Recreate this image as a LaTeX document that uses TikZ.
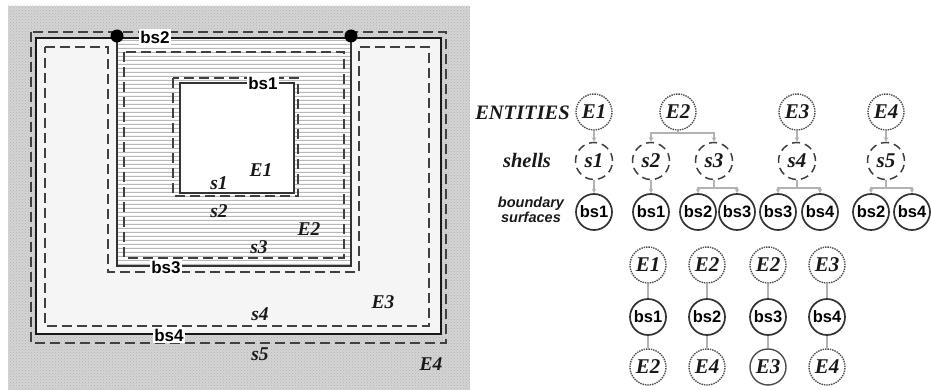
\documentclass[tikz,border=0pt]{standalone}
\usepackage{fontspec}
\setmainfont{Liberation Serif}
\setsansfont{Liberation Sans}
\usetikzlibrary{patterns,arrows.meta}

% thin horizontal hatching with a 4pt period
\pgfdeclarepatternformonly{hlinesfour}{\pgfpoint{0pt}{0pt}}{\pgfpoint{200pt}{4pt}}{\pgfpoint{200pt}{4pt}}{%
  \pgfsetlinewidth{1.2pt}%
  \pgfpathmoveto{\pgfpoint{-1pt}{2pt}}\pgfpathlineto{\pgfpoint{201pt}{2pt}}\pgfusepath{stroke}}

\tikzset{
  solidline/.style={draw=black!90, line width=2.6pt},
  innerline/.style={draw=black!80, line width=2.1pt},
  shellline/.style={draw=black!75, line width=1.9pt, dash pattern=on 10pt off 5pt},
  bslabel/.style={fill=white, inner sep=1.5pt, font=\sffamily\bfseries\fontsize{17}{17}\selectfont},
  reglabel/.style={inner sep=0pt, font=\bfseries\itshape\fontsize{19.5}{19.5}\selectfont, text=black!90},
  ent/.style={circle, draw=black!70, densely dotted, line width=1.4pt, minimum size=36pt, inner sep=0pt,
    font=\bfseries\itshape\fontsize{21}{21}\selectfont, text=black!90},
  entsolid/.style={ent, solid},
  shl/.style={circle, draw=black!75, dash pattern=on 8pt off 5pt, line width=1.5pt, minimum size=37pt, inner sep=0pt,
    font=\bfseries\itshape\fontsize{21}{21}\selectfont, text=black!90},
  bnd/.style={circle, draw=black!80, line width=1.7pt, minimum size=36pt, inner sep=0pt,
    font=\sffamily\bfseries\fontsize{16.5}{16.5}\selectfont},
  link/.style={draw=black!30, line width=1.3pt},
  arr/.style={link, -{Stealth[length=4.5pt,width=4.5pt]}},
  rowlabel/.style={inner sep=0pt, font=\bfseries\itshape\fontsize{20.5}{20.5}\selectfont, text=black!90},
}

\begin{document}
\begin{tikzpicture}[x=1pt,y=-1pt]
\useasboundingbox (0,0) rectangle (931,390);

% ---------- nested regions ----------
% E4: outer textured space
\fill[black!17] (8,6) rectangle (470,390);
\fill[pattern=crosshatch dots, pattern color=black!30] (8,6) rectangle (470,390);
% E3: U-shaped entity
\fill[black!4] (36,38) rectangle (441,334);
% E2: horizontally hatched entity
\fill[white] (117,38) rectangle (351,266);
\fill[pattern=hlinesfour, pattern color=black!28] (117,38) rectangle (351,266);
% E1: inner entity
\fill[white] (180,83) rectangle (294,193);

% ---------- shells ----------
\draw[shellline] (31,32) rectangle (446,343);                  % s5
\draw[shellline] (45,47) -- (108,47) -- (108,272) -- (359,272)
                 -- (359,47) -- (429,47) -- (429,326) -- (45,326) -- cycle; % s4
\draw[shellline] (124,52) rectangle (344,258);                 % s3
\draw[shellline] (173,78) rectangle (298,196);                 % s1 / s2

% ---------- boundary surfaces ----------
\draw[solidline] (36,38) rectangle (441,334);                  % bs2 + bs4
\draw[innerline] (117,38) -- (117,266) -- (351,266) -- (351,38); % bs3
\draw[innerline] (180,83) rectangle (294,193);                 % bs1
\fill[black] (117,36) circle (6.5);
\fill[black] (351,36) circle (6.5);

% ---------- region labels ----------
\node[bslabel] (lbs2) at (155,37) {bs2};
\node[bslabel] (lbs1) at (263,83) {bs1};
\node[bslabel] (lbs3) at (166,267) {bs3};
\node[bslabel] (lbs4) at (169,335) {bs4};
\node[reglabel] (lE1) at (261,170) {E1};
\node[reglabel] (ls1) at (219,183) {s1};
\node[reglabel] (ls2) at (219,211) {s2};
\node[reglabel] (lE2) at (309,229) {E2};
\node[reglabel] (ls3) at (259,247) {s3};
\node[reglabel] (ls4) at (260,314) {s4};
\node[reglabel] (lE3) at (383,302) {E3};
\node[reglabel] (ls5) at (260,354) {s5};
\node[reglabel] (lE4) at (431,364) {E4};

% ---------- hierarchy ----------
\node[rowlabel, anchor=east] (tEnt) at (570,113) {ENTITIES};
\node[rowlabel] (tSh) at (527,160) {shells};
\node[align=center, inner sep=0pt, font=\sffamily\bfseries\itshape\fontsize{14.5}{15}\selectfont, text=black!90]
  (tBs) at (531,210) {boundary\\surfaces};

\node[ent] (E1) at (594,112) {E1};
\node[ent] (E2) at (678,112) {E2};
\node[ent] (E3) at (797,112) {E3};
\node[ent] (E4) at (886,112) {E4};

\node[shl] (s1) at (594,161) {s1};
\node[shl] (s2) at (651,161) {s2};
\node[shl] (s3) at (714,161) {s3};
\node[shl] (s4) at (797,161) {s4};
\node[shl] (s5) at (886,161) {s5};

\node[bnd] (b1)  at (594,212) {bs1};
\node[bnd] (b2)  at (651,212) {bs1};
\node[bnd] (b3)  at (698,212) {bs2};
\node[bnd] (b4)  at (737,212) {bs3};
\node[bnd] (b5)  at (778,212) {bs3};
\node[bnd] (b6)  at (820,212) {bs4};
\node[bnd] (b7)  at (871,212) {bs2};
\node[bnd] (b8)  at (912,212) {bs4};

\coordinate (j2) at (678,133);
\coordinate (j3) at (717,188);
\coordinate (j4) at (799,188);
\coordinate (j5) at (891,188);

\draw[arr] (E1) -- (s1);
\draw[link] (E2) -- (j2);
\draw[arr] (j2) -| (s2);
\draw[arr] (j2) -| (s3);
\draw[arr] (E3) -- (s4);
\draw[arr] (E4) -- (s5);

\draw[arr] (s1) -- (b1);
\draw[arr] (s2) -- (b2);
\draw[link] (s3) -- (s3 |- j3);
\draw[arr] (j3) -| (b3);
\draw[arr] (j3) -| (b4);
\draw[link] (s4) -- (s4 |- j4);
\draw[arr] (j4) -| (b5);
\draw[arr] (j4) -| (b6);
\draw[link] (s5) -- (s5 |- j5);
\draw[arr] (j5) -| (b7);
\draw[arr] (j5) -| (b8);

% ---------- adjacency of entities through boundary surfaces ----------
\node[ent]      (pa1) at (648,265) {E1};
\node[bnd]      (pb1) at (648,317) {bs1};
\node[ent]      (pc1) at (648,367) {E2};
\node[ent]      (pa2) at (707,265) {E2};
\node[bnd]      (pb2) at (707,317) {bs2};
\node[ent]      (pc2) at (707,367) {E4};
\node[ent]      (pa3) at (768,265) {E2};
\node[bnd]      (pb3) at (768,317) {bs3};
\node[entsolid] (pc3) at (768,367) {E3};
\node[ent]      (pa4) at (827,265) {E3};
\node[bnd]      (pb4) at (827,317) {bs4};
\node[ent]      (pc4) at (827,367) {E4};

\foreach \i in {1,2,3,4} {
  \draw[link] (pa\i) -- (pb\i);
  \draw[link] (pb\i) -- (pc\i);
}
\end{tikzpicture}
\end{document}
